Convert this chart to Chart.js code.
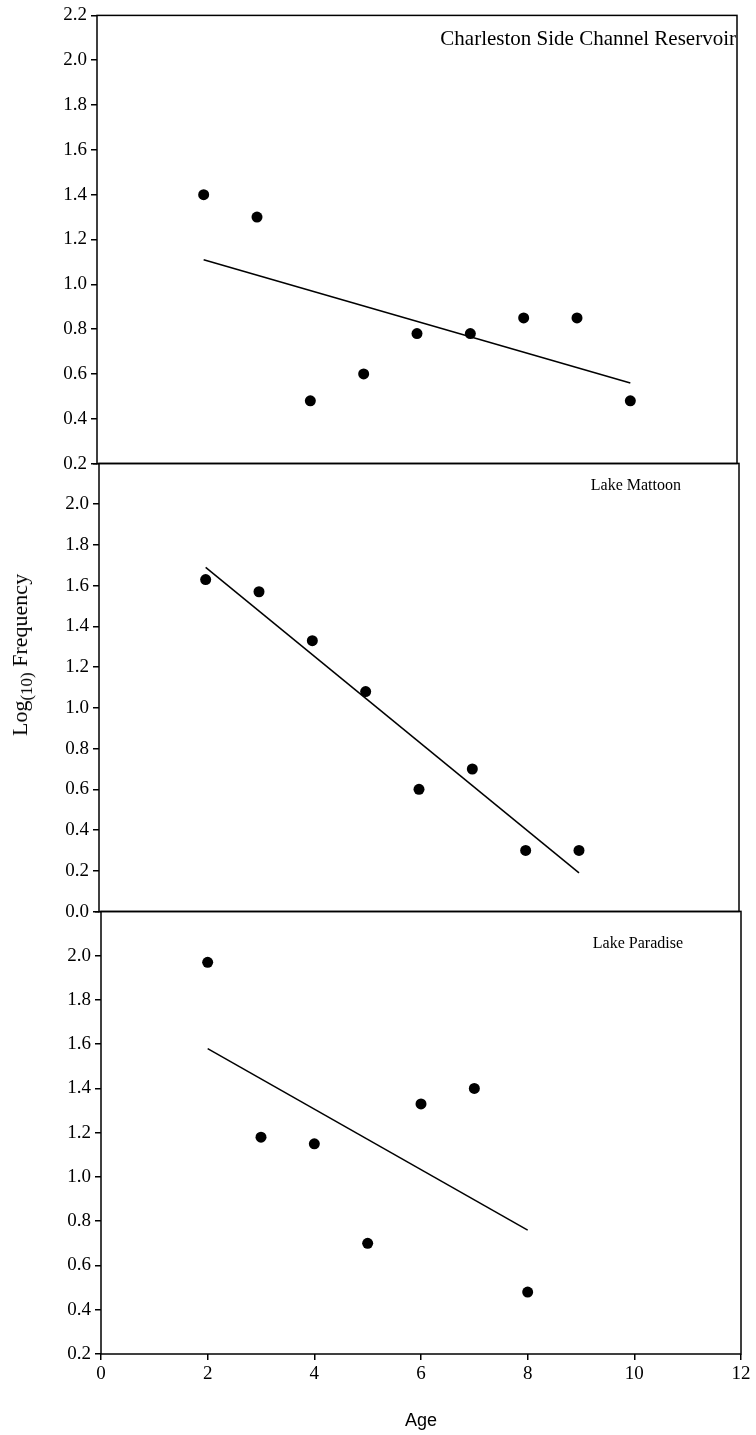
<!DOCTYPE html>
<html>
<head>
<meta charset="utf-8">
<script src="https://cdn.jsdelivr.net/npm/chart.js@4/dist/chart.umd.min.js"></script>
<style>
  html, body { margin: 0; padding: 0; background: #fff; }
  body { position: relative; width: 756px; height: 1435px; overflow: hidden; }
  canvas { position: absolute; left: 0; }
  #ytitle {
    position: absolute; left: 22px; top: 655px;
    transform: translate(-50%, -50%) rotate(-90deg);
    font-family: "Liberation Serif", serif; font-size: 22px; white-space: nowrap; color: #000;
  }
  #ytitle sub { font-size: 17px; vertical-align: -5px; }
</style>
</head>
<body>
<canvas id="panel1" width="756" height="479" style="top:0px"></canvas>
<canvas id="panel2" width="756" height="479" style="top:448px"></canvas>
<canvas id="panel3" width="756" height="539" style="top:896px"></canvas>
<div id="ytitle">Log<sub>(10)</sub> Frequency</div>
<script>
// data
var panelNames = ['Charleston Side Channel Reservoir', 'Lake Mattoon', 'Lake Paradise'];

var ages1 = [2, 3, 4, 5, 6, 7, 8, 9, 10];
var freq1 = [1.40, 1.30, 0.48, 0.60, 0.78, 0.78, 0.85, 0.85, 0.48];
var trendAges1 = [2, 10];
var trendFreq1 = [1.11, 0.56];

var ages2 = [2, 3, 4, 5, 6, 7, 8, 9];
var freq2 = [1.63, 1.57, 1.33, 1.08, 0.60, 0.70, 0.30, 0.30];
var trendAges2 = [2, 9];
var trendFreq2 = [1.69, 0.19];

var ages3 = [2, 3, 4, 5, 6, 7, 8];
var freq3 = [1.97, 1.18, 1.15, 0.70, 1.33, 1.40, 0.48];
var trendAges3 = [2, 8];
var trendFreq3 = [1.58, 0.76];

var ageTicks = [0, 2, 4, 6, 8, 10, 12];

function pts(xs, ys) {
    return xs.map(function(x, i) { return {x: x, y: ys[i]}; });
}

// box round the plot area + panel name in the top right corner
var panelFrame = {
    id: 'panelFrame',
    afterDraw: function(chart, args, opts) {
        var ctx = chart.ctx, a = chart.chartArea;
        ctx.save();
        ctx.strokeStyle = '#000';
        ctx.lineWidth = 1.5;
        ctx.strokeRect(a.left, a.top, a.right - a.left, a.bottom - a.top);
        ctx.fillStyle = '#000';
        ctx.font = opts.size + 'px "Liberation Serif", serif';
        ctx.textAlign = 'right';
        ctx.textBaseline = 'middle';
        ctx.fillText(opts.text, a.right - opts.dx, a.top + opts.dy);
        ctx.restore();
    }
};

function makePanel(id, ages, freq, tAges, tFreq, cfg) {
    var ctx = document.getElementById(id).getContext('2d');
    return new Chart(ctx, {
        type: 'scatter',
        data: {
            datasets: [{
                data: pts(ages, freq),
                backgroundColor: '#000',
                borderWidth: 0,
                pointRadius: 5.5,
                order: 1
            }, {
                data: pts(tAges, tFreq),
                showLine: true,
                borderColor: '#000',
                borderWidth: 1.5,
                pointRadius: 0,
                order: 2
            }]
        },
        options: {
            responsive: false,
            animation: false,
            layout: {
                padding: {left: 0, right: 756 - cfg.right, top: 12, bottom: cfg.bottomPad}
            },
            plugins: {
                legend: {display: false},
                tooltip: {enabled: false},
                panelFrame: {text: cfg.name, dx: cfg.dx, dy: cfg.dy, size: cfg.nameSize}
            },
            scales: {
                x: {
                    type: 'linear',
                    min: 0,
                    max: 12,
                    display: cfg.showX,
                    afterBuildTicks: function(s) {
                        s.ticks = ageTicks.map(function(v) { return {value: v}; });
                    },
                    afterFit: function(s) { s.height = cfg.showX ? 81 : 0; },
                    border: {display: false},
                    grid: {drawOnChartArea: false, tickLength: 6, color: '#000', lineWidth: 1.5},
                    ticks: {
                        color: '#000',
                        padding: 3,
                        maxRotation: 0,
                        font: {family: 'Liberation Serif', size: 19}
                    },
                    title: {
                        display: true,
                        text: 'Age',
                        color: '#000',
                        font: {family: 'Liberation Sans', size: 18},
                        padding: {top: 0, bottom: 3}
                    }
                },
                y: {
                    min: cfg.ymin,
                    max: 2.2,
                    afterFit: function(s) { s.width = cfg.left; },
                    border: {display: false},
                    grid: {drawOnChartArea: false, tickLength: 6, color: '#000', lineWidth: 1.5},
                    ticks: {
                        stepSize: 0.2,
                        color: '#000',
                        padding: 4,
                        font: {family: 'Liberation Serif', size: 19},
                        callback: function(v) {
                            if (cfg.hideTop && v > 2.15) return '';
                            return v.toFixed(1);
                        }
                    }
                }
            }
        },
        plugins: [panelFrame]
    });
}

// chart1
makePanel('panel1', ages1, freq1, trendAges1, trendFreq1, {
    name: panelNames[0], left: 97, right: 737, ymin: 0.2, hideTop: false,
    showX: false, bottomPad: 9, dx: 1, dy: 24, nameSize: 21
});

// chart2
makePanel('panel2', ages2, freq2, trendAges2, trendFreq2, {
    name: panelNames[1], left: 99, right: 739, ymin: 0.0, hideTop: true,
    showX: false, bottomPad: 12, dx: 58, dy: 22, nameSize: 16
});

// chart3
makePanel('panel3', ages3, freq3, trendAges3, trendFreq3, {
    name: panelNames[2], left: 101, right: 741, ymin: 0.2, hideTop: true,
    showX: true, bottomPad: 0, dx: 58, dy: 32, nameSize: 16
});
</script>
</body>
</html>
